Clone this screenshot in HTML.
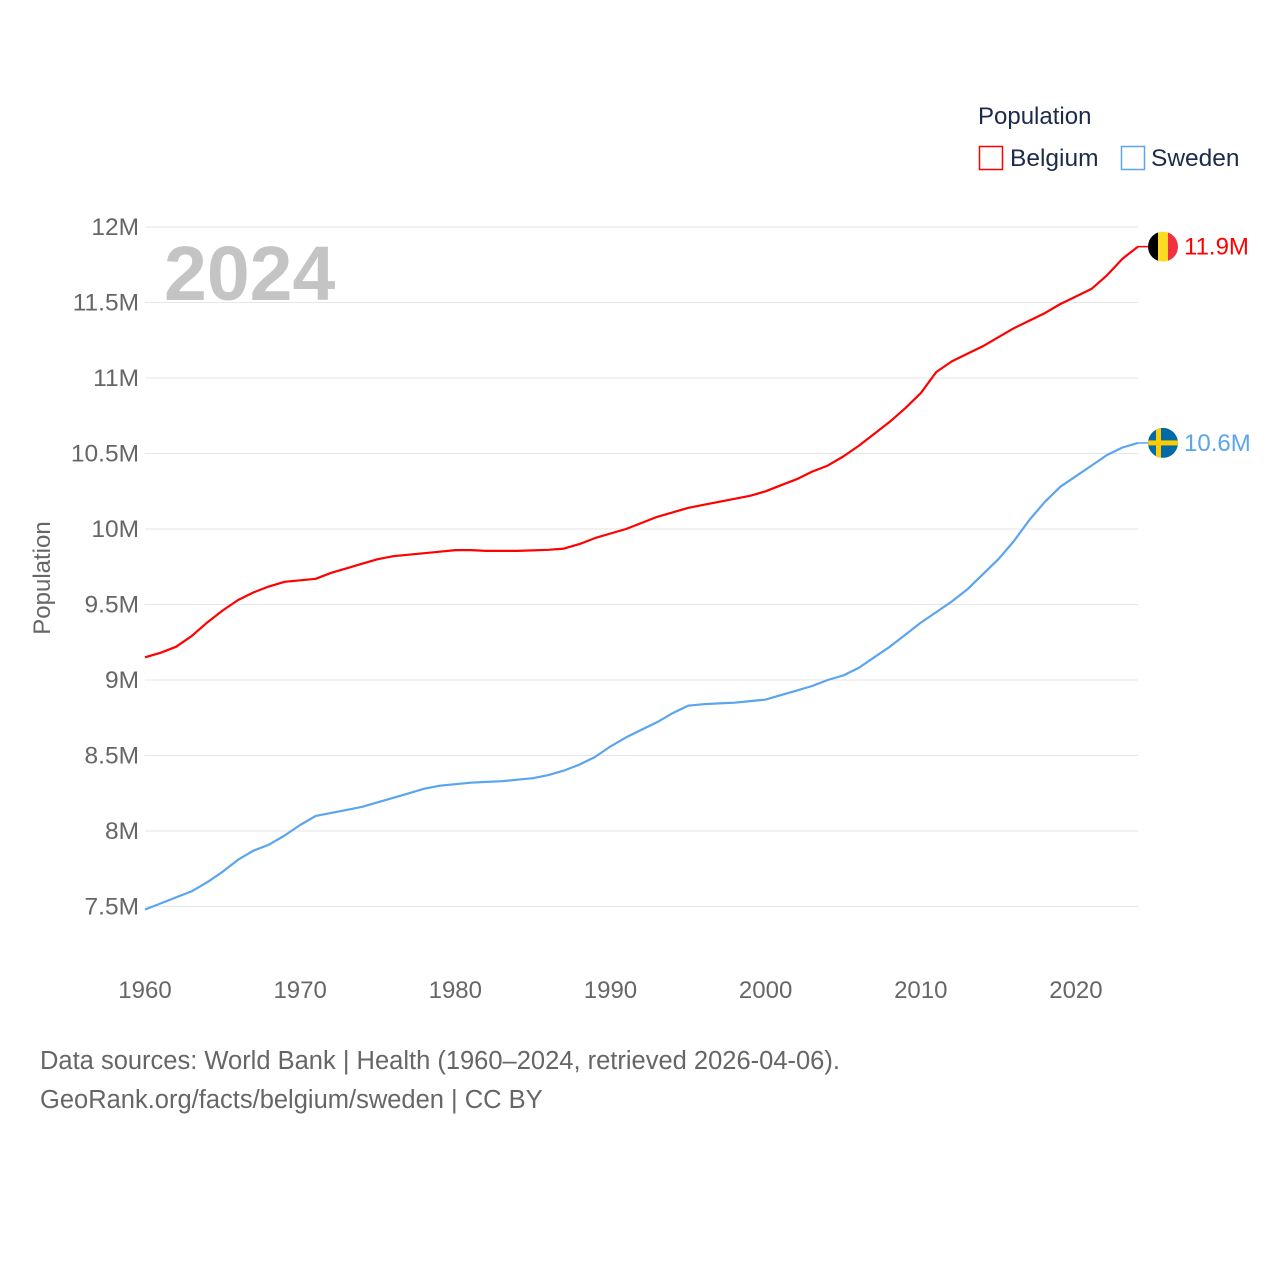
<!DOCTYPE html>
<html><head><meta charset="utf-8"><style>
html,body{margin:0;padding:0;background:#fff;width:1280px;height:1280px;overflow:hidden;font-family:"Liberation Sans",sans-serif}
svg text{font-family:"Liberation Sans",sans-serif}
</style></head><body>
<svg id="chart" width="1280" height="1280" xmlns="http://www.w3.org/2000/svg">
<g id="grid"></g>
<g id="yticks"></g>
<g id="xticks"></g>
<text x="164" y="300" font-size="77" font-weight="bold" fill="#c4c4c4">2024</text>
<text transform="translate(50,578) rotate(-90)" text-anchor="middle" font-size="24" fill="#666">Population</text>
<g id="series"></g>
<g>
<text x="978" y="124" font-size="24" fill="#1c2b4a">Population</text>
<g><rect x="979.5" y="146.5" width="23" height="23" fill="none" stroke="#ff0000" stroke-width="1.5"/><text x="1010" y="166" font-size="24.5" fill="#1c2b4a">Belgium</text></g>
<g><rect x="1121.5" y="146.5" width="23" height="23" fill="none" stroke="#5aa5ee" stroke-width="1.5"/><text x="1151" y="166" font-size="24.5" fill="#1c2b4a">Sweden</text></g>
</g>
<g>
<text x="40" y="1069" font-size="25.5" fill="#666">Data sources: World Bank | Health (1960–2024, retrieved 2026-04-06).</text>
<text x="40" y="1108" font-size="25.5" fill="#666">GeoRank.org/facts/belgium/sweden | CC BY</text>
</g>
</svg>
<script>
const years = [];
for (let y = 1960; y <= 2024; y++) years.push(y);
const belgium = [9.15,9.18,9.22,9.29,9.38,9.46,9.53,9.58,9.62,9.65,9.66,9.67,9.71,9.74,9.77,9.80,9.82,9.83,9.84,9.85,9.86,9.86,9.855,9.855,9.855,9.858,9.862,9.87,9.90,9.94,9.97,10.0,10.04,10.08,10.11,10.14,10.16,10.18,10.20,10.22,10.25,10.29,10.33,10.38,10.42,10.48,10.55,10.63,10.71,10.80,10.90,11.04,11.11,11.16,11.21,11.27,11.33,11.38,11.43,11.49,11.54,11.59,11.68,11.79,11.87];
const sweden = [7.48,7.52,7.56,7.60,7.66,7.73,7.81,7.87,7.91,7.97,8.04,8.10,8.12,8.14,8.16,8.19,8.22,8.25,8.28,8.30,8.31,8.32,8.325,8.33,8.34,8.35,8.37,8.40,8.44,8.49,8.56,8.62,8.67,8.72,8.78,8.83,8.84,8.845,8.85,8.86,8.87,8.90,8.93,8.96,9.00,9.03,9.08,9.15,9.22,9.30,9.38,9.45,9.52,9.60,9.70,9.80,9.92,10.06,10.18,10.28,10.35,10.42,10.49,10.54,10.57];
const yTicks = [7.5,8,8.5,9,9.5,10,10.5,11,11.5,12];
const yTickLabels = ["7.5M","8M","8.5M","9M","9.5M","10M","10.5M","11M","11.5M","12M"];
const xTicks = [1960,1970,1980,1990,2000,2010,2020];
const endLabels = ["11.9M","10.6M"];

const NS = "http://www.w3.org/2000/svg";
const X0 = 145, X1 = 1138;
const xs = v => X0 + (v - 1960) * (X1 - X0) / 64;
const ys = v => 227 + (12 - v) * 151;
function mk(tag, attrs, parent){ const e=document.createElementNS(NS,tag); for(const k in attrs) e.setAttribute(k,attrs[k]); parent.appendChild(e); return e; }

const grid = document.getElementById('grid'), yt = document.getElementById('yticks'), xt = document.getElementById('xticks'), ser = document.getElementById('series');
yTicks.forEach((v,i)=>{
  const l = mk('line',{x1:X0,x2:X1,y1:ys(v),y2:ys(v),stroke:'#e6e6e6','stroke-width':1},grid);
  
  
  const t = mk('text',{x:139,y:ys(v)+8,'text-anchor':'end','font-size':24.5,fill:'#666'},yt);
  t.textContent = yTickLabels[i];
  
  
});
xTicks.forEach(v=>{
  const t = mk('text',{x:xs(v),y:998,'text-anchor':'middle','font-size':24,fill:'#666'},xt);
  t.textContent = v;
  
  
});
function line(vals,color,name){
  const d = vals.map((v,i)=>(i?'L':'M')+xs(years[i]).toFixed(1)+','+ys(v).toFixed(1)).join(' ');
  const p = mk('path',{d:d,fill:'none',stroke:color,'stroke-width':2.2,'stroke-linejoin':'round'},ser);
  
  
}
line(belgium,'#ff0000','belgium-line');
line(sweden,'#5aa5ee','sweden-line');

const bY = ys(belgium[belgium.length-1]), sY = ys(sweden[sweden.length-1]);
const fx = 1163;
const defs = mk('defs',{},ser);
const c1 = mk('clipPath',{id:'cb'},defs); mk('circle',{cx:fx,cy:bY,r:15},c1);
const c2 = mk('clipPath',{id:'cs'},defs); mk('circle',{cx:fx,cy:sY,r:15},c2);
const fb = mk('g',{'clip-path':'url(#cb)'},ser);


mk('rect',{x:fx-15,y:bY-15,width:10,height:30,fill:'#000'},fb);
mk('rect',{x:fx-5,y:bY-15,width:10,height:30,fill:'#fdda24'},fb);
mk('rect',{x:fx+5,y:bY-15,width:10,height:30,fill:'#ef3340'},fb);
const fs = mk('g',{'clip-path':'url(#cs)'},ser);


mk('rect',{x:fx-15,y:sY-15,width:30,height:30,fill:'#006aa7'},fs);
mk('rect',{x:fx-15,y:sY-2.5,width:30,height:5,fill:'#fecc00'},fs);
mk('rect',{x:fx-7,y:sY-15,width:5,height:30,fill:'#fecc00'},fs);
mk('line',{x1:X1,x2:fx-15,y1:bY,y2:bY,stroke:'#ff0000','stroke-width':1.5},ser);
mk('line',{x1:X1,x2:fx-15,y1:sY,y2:sY,stroke:'#5aa5ee','stroke-width':1.5},ser);
const t1 = mk('text',{x:1184,y:bY+8,'font-size':24,fill:'#ff0000'},ser);
t1.textContent = endLabels[0];


const t2 = mk('text',{x:1184,y:sY+8,'font-size':24,fill:'#5aa5ee'},ser);
t2.textContent = endLabels[1];


</script>
</body></html>
